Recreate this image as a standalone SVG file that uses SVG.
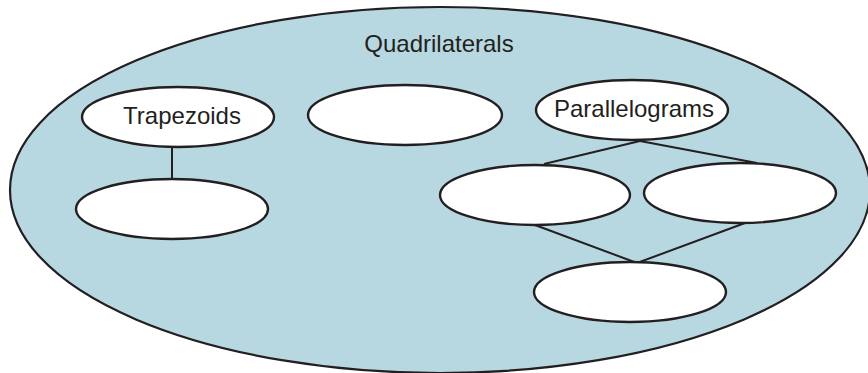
<svg xmlns="http://www.w3.org/2000/svg" width="868" height="373" viewBox="0 0 868 373">
<style>
.outer{fill:#b8d8e1;stroke:#231f20;stroke-width:2.2}
.node{fill:#ffffff;stroke:#231f20;stroke-width:2.4}
.conn line{stroke:#231f20;stroke-width:2}
text{font-family:"Liberation Sans",Arial,sans-serif;font-size:24px;fill:#231f20;text-anchor:middle;dominant-baseline:central}
</style>
<g id="quadrilaterals">
<ellipse class="outer" cx="440" cy="190" rx="430" ry="183"/>
<text x="439" y="43">Quadrilaterals</text>
</g>
<g class="conn" id="connectors">
<line x1="172" y1="147" x2="172" y2="179"/>
<line x1="640" y1="141" x2="544" y2="164"/>
<line x1="640" y1="141" x2="757" y2="163"/>
<line x1="535" y1="225" x2="637" y2="263"/>
<line x1="745" y1="223" x2="637" y2="263"/>
</g>
<g id="trapezoids">
<ellipse class="node" cx="178" cy="117" rx="96" ry="30"/>
<text x="182" y="115">Trapezoids</text>
</g>
<g id="trap-child">
<ellipse class="node" cx="172" cy="209" rx="96" ry="30"/>
</g>
<g id="middle">
<ellipse class="node" cx="405" cy="115" rx="97" ry="30"/>
</g>
<g id="parallelograms">
<ellipse class="node" cx="632" cy="110" rx="96" ry="30"/>
<text x="634" y="108">Parallelograms</text>
</g>
<g id="para-left">
<ellipse class="node" cx="535" cy="195" rx="95" ry="30"/>
</g>
<g id="para-right">
<ellipse class="node" cx="740" cy="193" rx="96" ry="30"/>
</g>
<g id="para-bottom">
<ellipse class="node" cx="630" cy="292" rx="96" ry="30"/>
</g>
</svg>
